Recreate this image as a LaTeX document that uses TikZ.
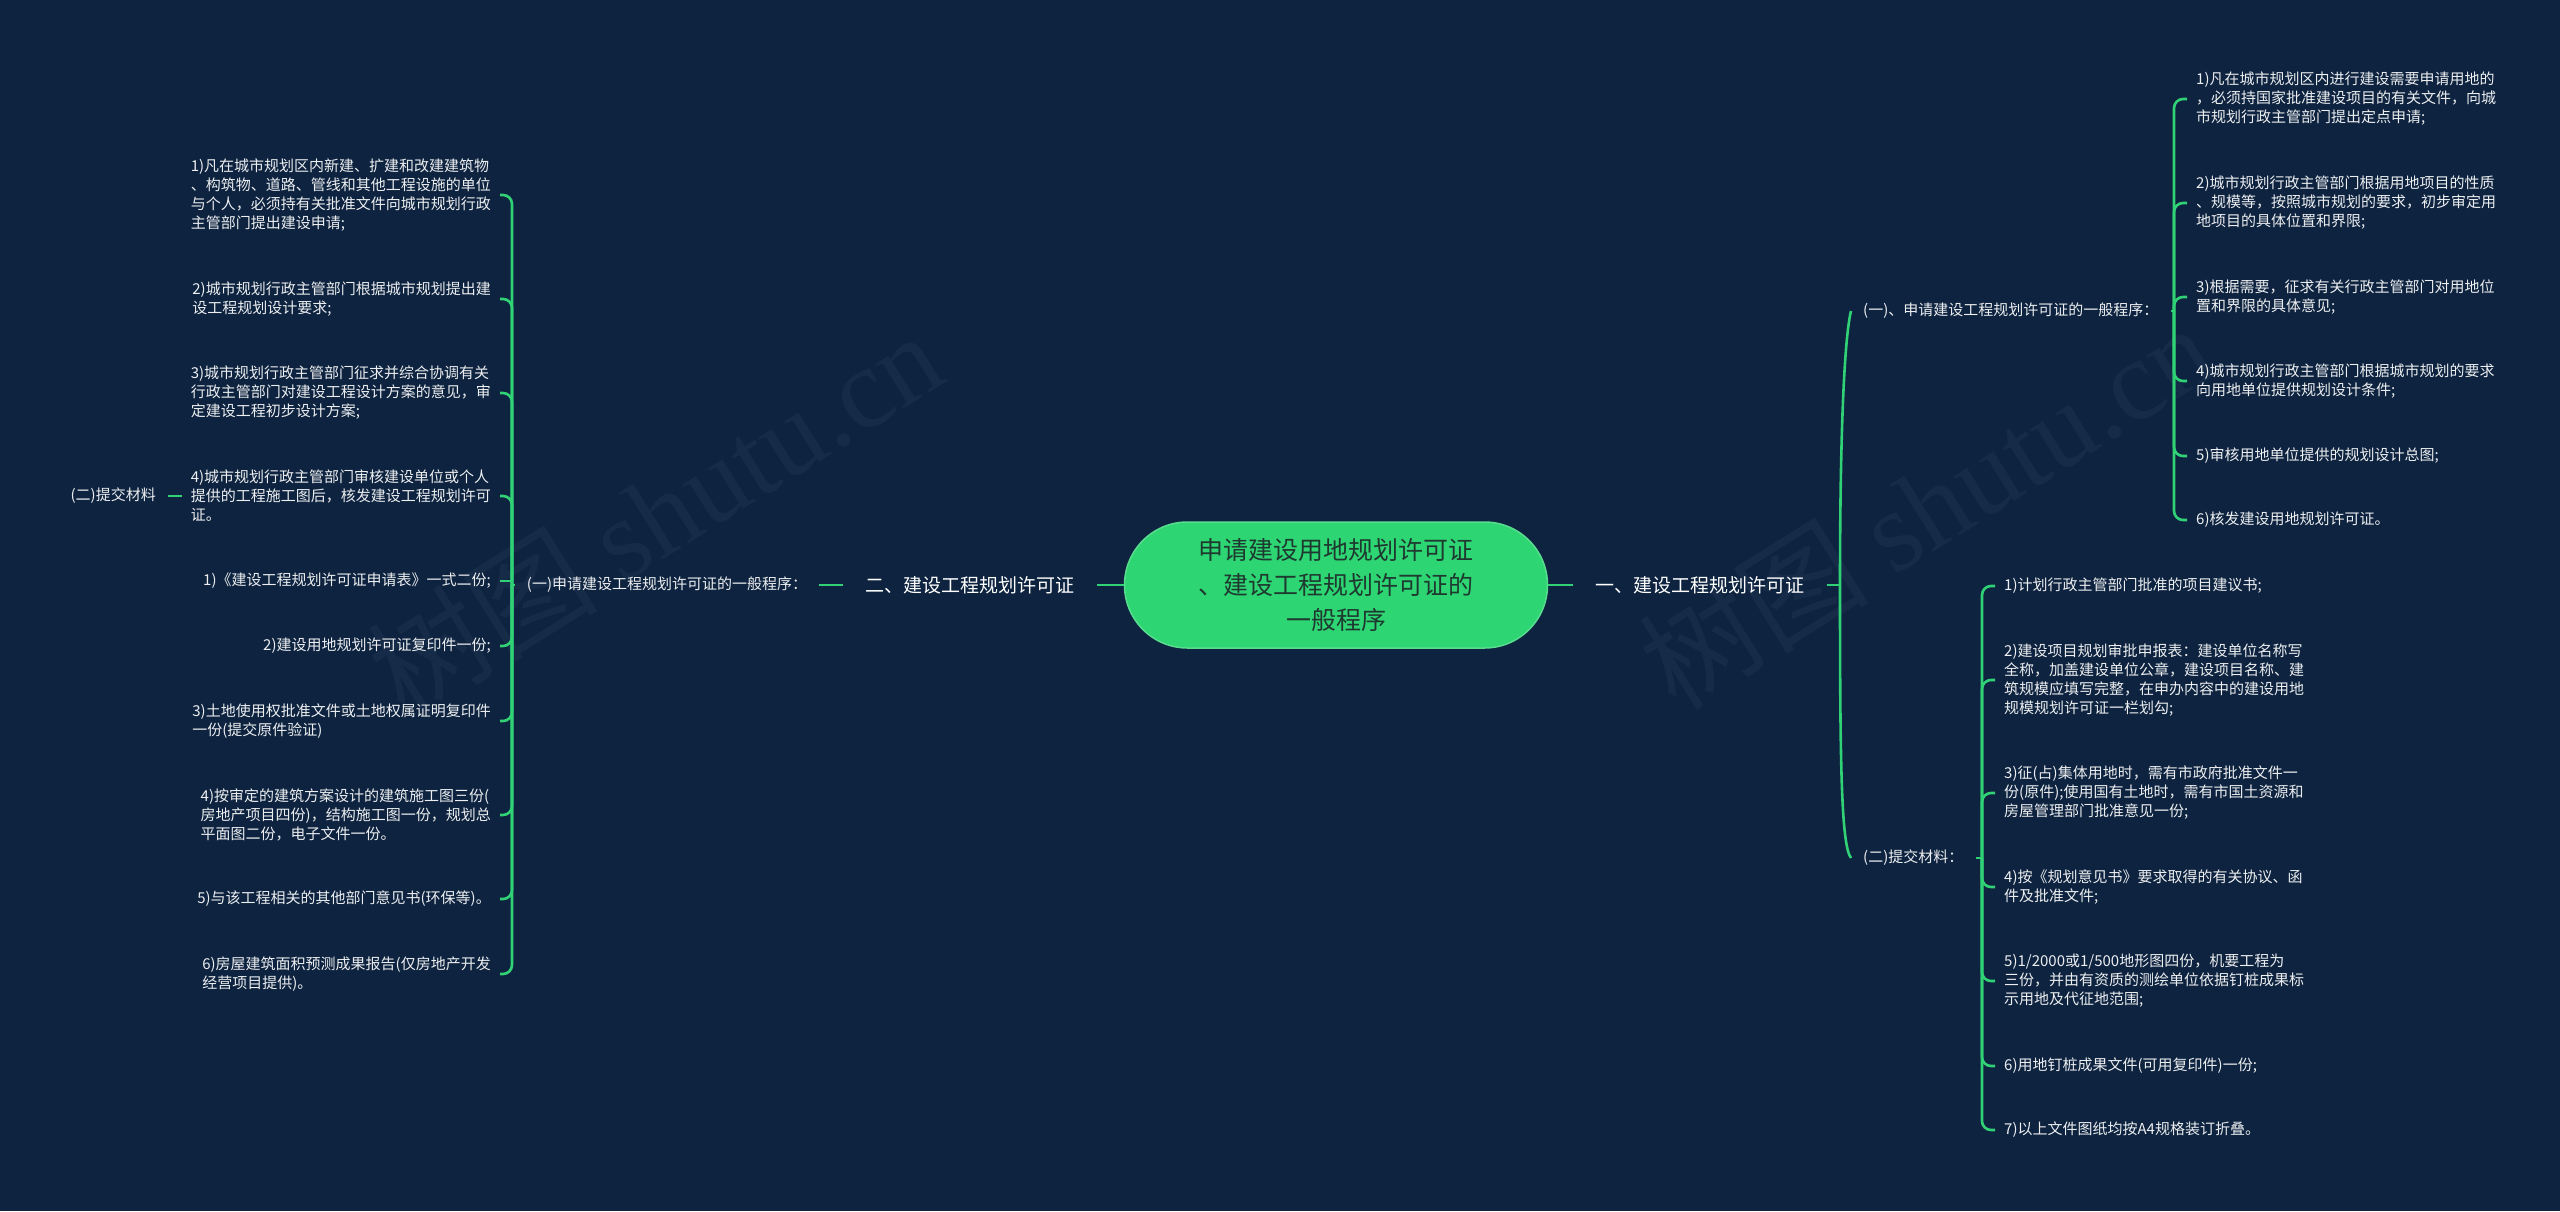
\documentclass[tikz,border=0pt]{standalone}
\usepackage{fontspec}
\setmainfont{Noto Sans CJK SC}
\newfontfamily\wmlatin{Liberation Serif}
\usetikzlibrary{calc}
\definecolor{bgc}{RGB}{13,35,63}
\definecolor{gline}{RGB}{49,210,117}
\definecolor{gfill}{RGB}{46,213,115}
\definecolor{ctext}{RGB}{30,58,48}
\definecolor{wtext}{RGB}{236,238,240}
\definecolor{wmark}{RGB}{21,43,71}
\tikzset{
  conn/.style={draw=gline, line width=2.6pt},
  brk/.style={conn, rounded corners=9pt},
  leaf/.style={text=wtext, font=\fontsize{15}{19}\selectfont, align=left, inner xsep=9pt, inner ysep=2pt},
  sub/.style={text=wtext, font=\fontsize{15}{19}\selectfont, inner xsep=12pt, inner ysep=2pt},
  mainbr/.style={text=white, font=\fontsize{19}{23}\selectfont, inner xsep=22pt, inner ysep=4pt},
  rootnode/.style={fill=gfill, draw=gfill!80!white, line width=1.5pt, rounded corners=63pt, minimum width=423pt, minimum height=126pt, text=ctext, align=center, font=\fontsize{25}{35}\selectfont},
  wm/.style={text=wmark, rotate=32, font=\fontsize{115}{115}\selectfont}
}
\begin{document}
\begin{tikzpicture}[x=1pt,y=-1pt]
\fill[bgc] (0,0) rectangle (2560,1211);
\useasboundingbox (0,0) rectangle (2560,1211);

% watermarks
\node[wm] (wmA) at (655,513) {树图 {\wmlatin shutu.cn}};
\node[wm] (wmB) at (1926,505) {树图 {\wmlatin shutu.cn}};

% root
\node[rootnode] (root) at (1336,585) {申请建设用地规划许可证\\、建设工程规划许可证的\\一般程序};

% level 1
\node[mainbr] (L1) at (970,585) {二、建设工程规划许可证};
\node[mainbr] (R1) at (1700,585) {一、建设工程规划许可证};

% level 2
\node[sub] (LA) at (667,585) {(一)申请建设工程规划许可证的一般程序：};
\node[sub, anchor=west] (RA) at (1851,311) {(一)、申请建设工程规划许可证的一般程序：};
\node[sub, anchor=west] (RB) at (1851,858) {(二)提交材料：};

% left leaves
\node[leaf, anchor=east] (l1) at (500,195) {1)凡在城市规划区内新建、扩建和改建建筑物\\、构筑物、道路、管线和其他工程设施的单位\\与个人，必须持有关批准文件向城市规划行政\\主管部门提出建设申请;};
\node[leaf, anchor=east] (l2) at (500,299) {2)城市规划行政主管部门根据城市规划提出建\\设工程规划设计要求;};
\node[leaf, anchor=east] (l3) at (500,393) {3)城市规划行政主管部门征求并综合协调有关\\行政主管部门对建设工程设计方案的意见，审\\定建设工程初步设计方案;};
\node[leaf, anchor=east] (l4) at (500,496) {4)城市规划行政主管部门审核建设单位或个人\\提供的工程施工图后，核发建设工程规划许可\\证。};
\node[leaf, anchor=east] (l5) at (500,581) {1)《建设工程规划许可证申请表》一式二份;};
\node[leaf, anchor=east] (l6) at (500,646) {2)建设用地规划许可证复印件一份;};
\node[leaf, anchor=east] (l7) at (500,721) {3)土地使用权批准文件或土地权属证明复印件\\一份(提交原件验证)};
\node[leaf, anchor=east] (l8) at (500,815) {4)按审定的建筑方案设计的建筑施工图三份(\\房地产项目四份)，结构施工图一份，规划总\\平面图二份，电子文件一份。};
\node[leaf, anchor=east] (l9) at (500,899) {5)与该工程相关的其他部门意见书(环保等)。};
\node[leaf, anchor=east] (l10) at (500,974) {6)房屋建筑面积预测成果报告(仅房地产开发\\经营项目提供)。};
\node[sub, anchor=east] (LB) at (168,496) {(二)提交材料};

% right leaves A
\node[leaf, anchor=west] (r1) at (2187,99) {1)凡在城市规划区内进行建设需要申请用地的\\，必须持国家批准建设项目的有关文件，向城\\市规划行政主管部门提出定点申请;};
\node[leaf, anchor=west] (r2) at (2187,203) {2)城市规划行政主管部门根据用地项目的性质\\、规模等，按照城市规划的要求，初步审定用\\地项目的具体位置和界限;};
\node[leaf, anchor=west] (r3) at (2187,297) {3)根据需要，征求有关行政主管部门对用地位\\置和界限的具体意见;};
\node[leaf, anchor=west] (r4) at (2187,381) {4)城市规划行政主管部门根据城市规划的要求\\向用地单位提供规划设计条件;};
\node[leaf, anchor=west] (r5) at (2187,456) {5)审核用地单位提供的规划设计总图;};
\node[leaf, anchor=west] (r6) at (2187,520) {6)核发建设用地规划许可证。};

% right leaves B
\node[leaf, anchor=west] (s1) at (1995,586) {1)计划行政主管部门批准的项目建议书;};
\node[leaf, anchor=west] (s2) at (1995,680) {2)建设项目规划审批申报表：建设单位名称写\\全称，加盖建设单位公章，建设项目名称、建\\筑规模应填写完整，在申办内容中的建设用地\\规模规划许可证一栏划勾;};
\node[leaf, anchor=west] (s3) at (1995,793) {3)征(占)集体用地时，需有市政府批准文件一\\份(原件);使用国有土地时，需有市国土资源和\\房屋管理部门批准意见一份;};
\node[leaf, anchor=west] (s4) at (1995,887) {4)按《规划意见书》要求取得的有关协议、函\\件及批准文件;};
\node[leaf, anchor=west] (s5) at (1995,981) {5)1/2000或1/500地形图四份，机要工程为\\三份，并由有资质的测绘单位依据钉桩成果标\\示用地及代征地范围;};
\node[leaf, anchor=west] (s6) at (1995,1066) {6)用地钉桩成果文件(可用复印件)一份;};
\node[leaf, anchor=west] (s7) at (1995,1130) {7)以上文件图纸均按A4规格装订折叠。};

% bracket points
\coordinate (bl) at (512,585);
\coordinate (b1) at (1840,585);
\coordinate (bra) at (2174,311);
\coordinate (brb) at (1982,858);

% main connectors
\draw[conn] (root.west) -- (L1.east);
\draw[conn] (L1.west) -- (LA.east);
\draw[conn] (root.east) -- (R1.west);
\draw[conn] (LA.west) -- (bl);
\draw[conn] (R1.east) -- (b1);
\draw[conn] (b1) .. controls (1840,420) and (1845,335) .. (RA.west);
\draw[conn] (b1) .. controls (1840,760) and (1841,845) .. (RB.west);
\draw[conn] (RA.east) -- (bra);
\draw[conn] (RB.east) -- (brb);
\draw[conn] (LB.east) -- (l4.west);

% left bracket
\foreach \n in {l1,l2,l3,l4,l6,l7,l8,l9,l10} \draw[brk] (bl) |- (\n.east);
\draw[conn] (l5.east) -- (l5.east -| bl);

% right brackets
\foreach \n in {r1,r2,r3,r4,r5,r6} \draw[brk] (bra) |- (\n.west);
\foreach \n in {s1,s2,s3,s4,s5,s6,s7} \draw[brk] (brb) |- (\n.west);
\end{tikzpicture}
\end{document}
